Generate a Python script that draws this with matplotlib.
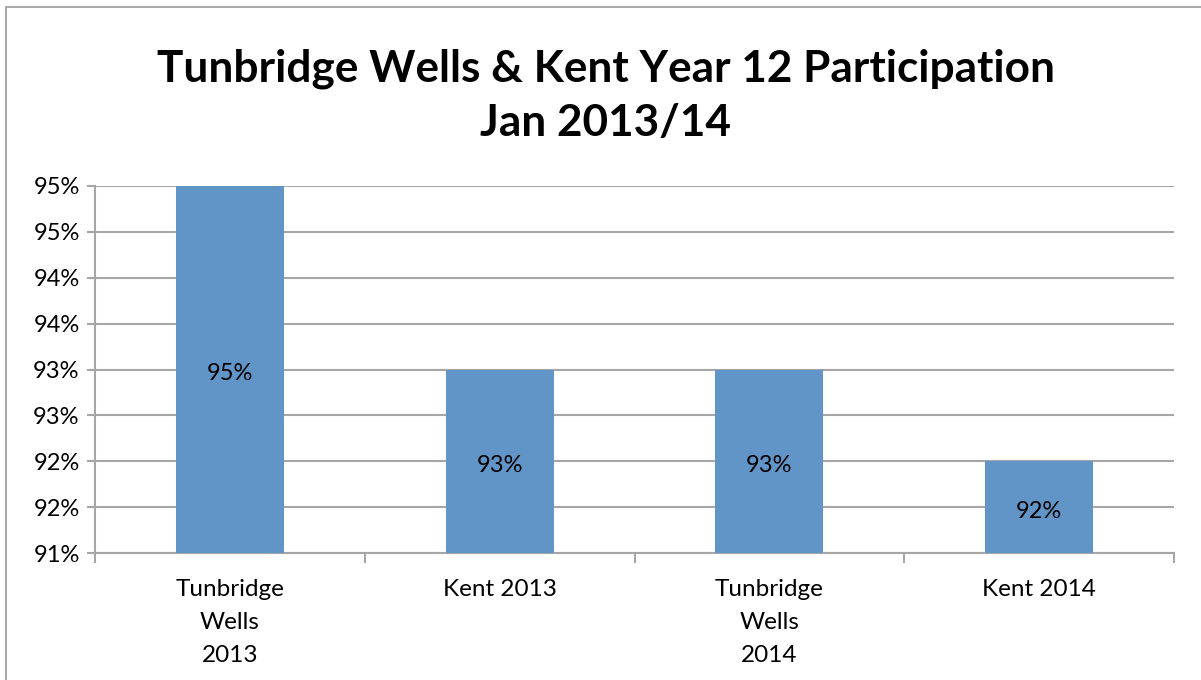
import math
import matplotlib
matplotlib.use('Agg')
import matplotlib.pyplot as plt
from matplotlib.patches import Rectangle
from matplotlib.ticker import FuncFormatter, FixedLocator

plt.rcParams['font.family'] = ['Lato', 'DejaVu Sans']

categories = ["Tunbridge\nWells\n2013", "Kent 2013", "Tunbridge\nWells\n2014", "Kent 2014"]
participation = [95, 93, 93, 92]   # percent
yticks = [91, 91.5, 92, 92.5, 93, 93.5, 94, 94.5, 95]

W, H = 1201, 680
fig = plt.figure(figsize=(W / 100, H / 100), dpi=100)

# outer chart border
fig.patches.append(Rectangle((5.5 / W, -0.1), 1.2, (H - 7.5) / H + 0.1,
                             transform=fig.transFigure, fill=False,
                             edgecolor='#9a9a9a', linewidth=1.2))

left, right, top, bottom = 95, 1174, 186, 553
ax = fig.add_axes([left / W, (H - bottom) / H, (right - left) / W, (bottom - top) / H])

bar_color = '#6295c7'
grid_color = '#a6a6a6'
x = range(len(categories))
bars = ax.bar(x, participation, width=0.4, color=bar_color, zorder=3)
ax.set_xlim(-0.5, len(categories) - 0.5)
ax.set_ylim(91, 95)

# percent labels in the middle of each bar
for b, v in zip(bars, participation):
    ax.annotate(f"{v}%", (b.get_x() + b.get_width() / 2, (91 + v) / 2),
                xytext=(0, -3), textcoords='offset points',
                ha='center', va='center', fontsize=17, zorder=4)

# y axis: half-percent steps, labels rounded half-up to whole percents
ax.yaxis.set_major_locator(FixedLocator(yticks))
ax.yaxis.set_major_formatter(FuncFormatter(lambda v, p: f"{math.floor(v + 0.5)}%"))
ax.grid(axis='y', color=grid_color, linewidth=1.5, zorder=0)
ax.tick_params(axis='y', length=6, width=1.5, color=grid_color, labelsize=17, pad=5)

# x axis: labels under bars, tick marks on category boundaries
ax.set_xticks(list(x))
ax.set_xticklabels(categories, fontsize=17.5, linespacing=1.7)
ax.tick_params(axis='x', which='major', length=0, pad=19)
ax.set_xticks([i - 0.5 for i in range(len(categories) + 1)], minor=True)
ax.tick_params(axis='x', which='minor', length=7, width=1.5, color=grid_color)

for s in ['top', 'right']:
    ax.spines[s].set_visible(False)
for s in ['left', 'bottom']:
    ax.spines[s].set_color(grid_color)
    ax.spines[s].set_linewidth(1.5)

fig.text(606 / W, 1 - 96 / H, "Tunbridge Wells & Kent Year 12 Participation\nJan 2013/14",
         ha='center', va='center', fontsize=31.8, fontweight='bold', linespacing=1.42)

fig.savefig("out.png", dpi=100)
